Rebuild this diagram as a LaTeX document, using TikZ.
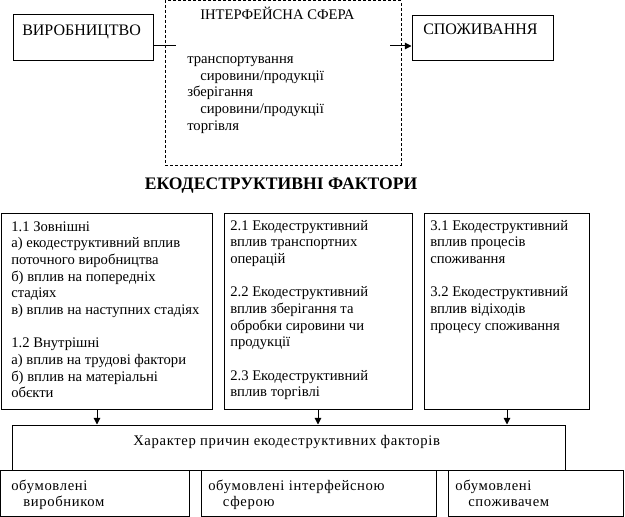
\documentclass[tikz,border=0pt]{standalone}
\usepackage{fontspec}
\setmainfont{Liberation Serif}
\newfontfamily\widefont[LetterSpace=4.4]{Liberation Serif}
\usetikzlibrary{arrows.meta,fit}
\newcommand\rows[1]{\begin{tabular}[t]{@{}l@{}}#1\end{tabular}}
\tikzset{
  box/.style={draw, line width=0.75pt, inner sep=0pt},
  dbox/.style={draw, line width=0.75pt, inner sep=0pt, dash pattern=on 2.25pt off 1.5pt},
  txt/.style={inner sep=0pt, anchor=base west, font=\fontsize{11}{12.5}\selectfont},
  widetxt/.style={inner sep=0pt, anchor=base west, font=\widefont\fontsize{11}{12}\selectfont},
  captxt/.style={inner sep=0pt, anchor=base west, font=\fontsize{12}{14}\selectfont},
  ttl/.style={inner sep=0pt, anchor=base, font=\fontsize{13.2}{15}\selectfont\bfseries},
  conn/.style={line width=0.75pt},
  arr/.style={line width=0.75pt, -{Triangle[length=5pt,width=5pt]}}
}
\begin{document}
\begin{tikzpicture}[x=0.75pt,y=-0.75pt]
\useasboundingbox (0,0) rectangle (625,517);
% top row
\node[box, fit={(13,15)(153,61)}] (vir) {};
\node[dbox, fit={(165,1)(401,165)}] (int) {};
\node[box, fit={(412,16)(553,61)}] (spoz) {};
\node[captxt] (tvir) at (22,36) {ВИРОБНИЦТВО};
\node[captxt] (tspoz) at (423,35) {СПОЖИВАННЯ};
\node[txt] (tint) at (200,20) {ІНТЕРФЕЙСНА СФЕРА};
\node[txt] (tlist) at (187,63.5) {\rows{транспортування\\
\hspace{9.75pt}сировини/продукції\\
зберігання\\
\hspace{9.75pt}сировини/продукції\\
торгівля}};
\coordinate (l1) at (176,46);
\draw[conn] (vir.east |- l1) -- (l1);
\coordinate (a0) at (390,46);
\draw[arr] (a0) -- (a0 -| spoz.west);
% title
\node[ttl] (title) at (281,189) {ЕКОДЕСТРУКТИВНІ ФАКТОРИ};
% middle row
\node[box, fit={(1,213)(212,409)}] (b1) {};
\node[box, fit={(224,213)(412,409)}] (b2) {};
\node[box, fit={(424,213)(589,409)}] (b3) {};
\node[txt] (t1) at (11,231) {\rows{1.1 Зовнішні\\
а) екодеструктивний вплив\\
поточного виробництва\\
б) вплив на попередніх\\
стадіях\\
в) вплив на наступних стадіях\\
\\
1.2 Внутрішні\\
а) вплив на трудові фактори\\
б) вплив на матеріальні\\
обєкти}};
\node[txt] (t2) at (230,230) {\rows{2.1 Екодеструктивний\\
вплив транспортних\\
операцій\\
\\
2.2 Екодеструктивний\\
вплив зберігання та\\
обробки сировини чи\\
продукції\\
\\
2.3 Екодеструктивний\\
вплив торгівлі}};
\node[txt] (t3) at (430,230) {\rows{3.1 Екодеструктивний\\
вплив процесів\\
споживання\\
\\
3.2 Екодеструктивний\\
вплив відіходів\\
процесу споживання}};
% character box
\node[box, fit={(12,425)(565,470)}] (har) {};
\node[widetxt] (thar) at (133,445) {Характер причин екодеструктивних факторів};
\coordinate (x1) at (97,0);
\coordinate (x2) at (318,0);
\coordinate (x3) at (507,0);
\draw[arr] (x1 |- b1.south) -- (x1 |- har.north);
\draw[arr] (x2 |- b2.south) -- (x2 |- har.north);
\draw[arr] (x3 |- b3.south) -- (x3 |- har.north);
% bottom row
\node[box, fill=white, fit={(0,470)(189,516)}] (c1) {};
\node[box, fill=white, fit={(201,470)(436,516)}] (c2) {};
\node[box, fill=white, fit={(448,470)(623,516)}] (c3) {};
\node[widetxt] (tc1) at (11,490) {\rows{обумовлені\\ \hspace{9pt}виробником}};
\node[widetxt] (tc2) at (208,490) {\rows{обумовлені інтерфейсною\\ \hspace{11pt}сферою}};
\node[widetxt] (tc3) at (455,490) {\rows{обумовлені\\ \hspace{9.75pt}споживачем}};
\end{tikzpicture}
\end{document}
